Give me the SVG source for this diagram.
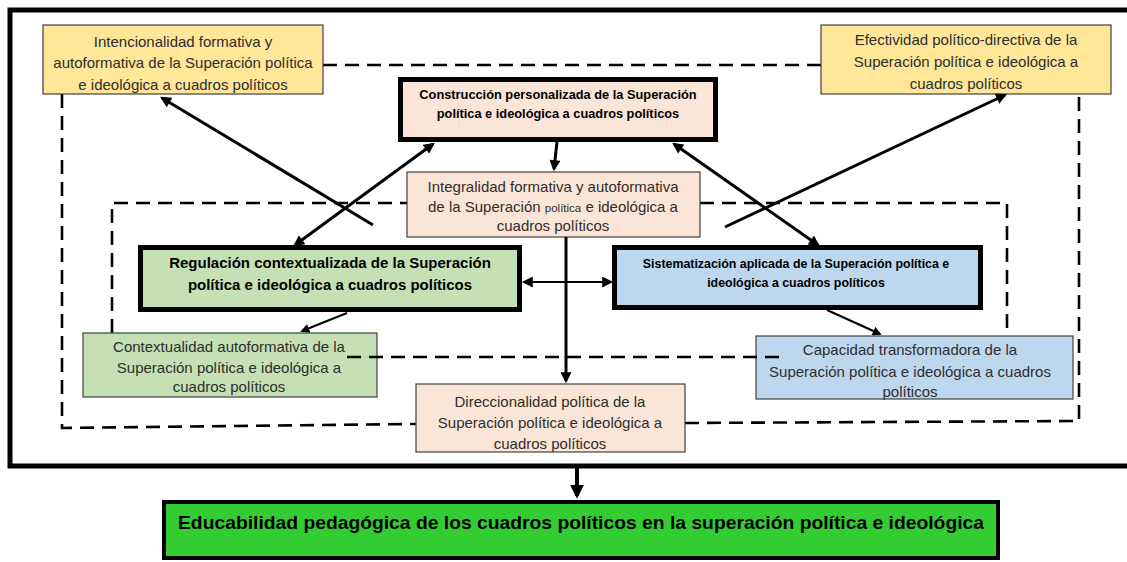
<svg xmlns="http://www.w3.org/2000/svg" width="1127" height="562" viewBox="0 0 1127 562">
<defs>
<style>
.t{font-family:"Liberation Sans",Arial,sans-serif;font-size:15px;fill:#2e2e2e;text-anchor:middle}
.b{font-family:"Liberation Sans",Arial,sans-serif;font-weight:bold;fill:#000;text-anchor:middle}
.thin{stroke:#404040;stroke-width:1.2}
.thick{stroke:#000;stroke-width:5}
.dash{fill:none;stroke:#000;stroke-width:2.6;stroke-dasharray:14 8}
.ar{fill:none;stroke:#000;stroke-width:3}
.ar2{fill:none;stroke:#000;stroke-width:2}
</style>
<marker id="ah" viewBox="0 0 10 10" refX="8" refY="5" markerWidth="12" markerHeight="11" markerUnits="userSpaceOnUse" orient="auto-start-reverse">
<path d="M0,0 L10,5 L0,10 Z" fill="#000"/>
</marker>
<marker id="ahs" viewBox="0 0 10 10" refX="8" refY="5" markerWidth="10" markerHeight="9" markerUnits="userSpaceOnUse" orient="auto-start-reverse">
<path d="M0,0 L10,5 L0,10 Z" fill="#000"/>
</marker>
<marker id="ahb" viewBox="0 0 10 10" refX="8" refY="5" markerWidth="14" markerHeight="15" markerUnits="userSpaceOnUse" orient="auto">
<path d="M0,0 L10,5 L0,10 Z" fill="#000"/>
</marker>
</defs>
<rect width="1127" height="562" fill="#fff"/>

<g id="frame">
<rect x="10" y="10" width="1130" height="456" fill="none" stroke="#000" stroke-width="5"/>
</g>

<g id="dashed-frames">
<path class="dash" d="M323,65 H821"/>
<path class="dash" d="M62,94 V428 L416,424"/>
<path class="dash" d="M685,423 L1079,421 V93"/>
<path class="dash" d="M112,333 V203 H407"/>
<path class="dash" d="M700,203 H1007 V336"/>
</g>

<g id="n-intencionalidad">
<rect x="43" y="25" width="280" height="69" fill="#FFE699" class="thin"/>
<text class="t" x="183" y="47">Intencionalidad formativa y</text>
<text class="t" x="183" y="68">autoformativa de la Superación política</text>
<text class="t" x="183" y="90">e ideológica a cuadros políticos</text>
</g>

<g id="n-efectividad">
<rect x="821" y="25" width="290" height="69" fill="#FFE699" class="thin"/>
<text class="t" x="966" y="45">Efectividad político-directiva de la</text>
<text class="t" x="966" y="67">Superación política e ideológica a</text>
<text class="t" x="966" y="89">cuadros políticos</text>
</g>

<g id="n-construccion">
<rect x="400.5" y="79.5" width="315" height="60" fill="#FBE5D6" class="thick"/>
<text class="b" x="558" y="98.5" font-size="12.8">Construcción personalizada de la Superación</text>
<text class="b" x="558" y="117.5" font-size="12.8">política e ideológica a cuadros políticos</text>
</g>

<g id="n-integralidad">
<rect x="407" y="172" width="293" height="65" fill="#FBE5D6" class="thin"/>
<text class="t" x="553" y="192">Integralidad formativa y autoformativa</text>
<text class="t" x="553" y="212">de la Superación <tspan font-size="11.5">política</tspan> e ideológica a</text>
<text class="t" x="553" y="231">cuadros políticos</text>
</g>

<g id="n-regulacion">
<rect x="140.5" y="247.5" width="379" height="62" fill="#C5E0B4" class="thick"/>
<text class="b" x="330" y="268" font-size="15">Regulación contextualizada de la Superación</text>
<text class="b" x="330" y="290" font-size="15">política e ideológica a cuadros políticos</text>
</g>

<g id="n-sistematizacion">
<rect x="614.5" y="247.5" width="366" height="60" fill="#BDD7EE" class="thick"/>
<text class="b" x="796" y="267.5" font-size="12.4">Sistematización aplicada de la Superación política e</text>
<text class="b" x="796" y="286.5" font-size="12.4">ideológica a cuadros políticos</text>
</g>

<g id="n-contextualidad">
<rect x="83" y="333" width="294" height="64" fill="#C5E0B4" class="thin"/>
<text class="t" x="229" y="352">Contextualidad autoformativa de la</text>
<text class="t" x="229" y="373">Superación política e ideológica a</text>
<text class="t" x="229" y="392">cuadros políticos</text>
</g>

<g id="n-capacidad">
<rect x="756" y="336" width="317" height="63" fill="#BDD7EE" class="thin"/>
<text class="t" x="910" y="355">Capacidad transformadora de la</text>
<text class="t" x="910" y="377">Superación política e ideológica a cuadros</text>
<text class="t" x="910" y="397">políticos</text>
</g>

<g id="n-direccionalidad">
<rect x="416" y="384" width="269" height="68" fill="#FBE5D6" class="thin"/>
<text class="t" x="550" y="407">Direccionalidad política de la</text>
<text class="t" x="550" y="428">Superación política e ideológica a</text>
<text class="t" x="550" y="449">cuadros políticos</text>
</g>

<g id="n-educabilidad">
<rect x="164" y="502" width="834" height="56" fill="#33CC33" stroke="#000" stroke-width="4"/>
<text class="b" x="581" y="529" font-size="19" textLength="806" lengthAdjust="spacingAndGlyphs">Educabilidad pedagógica de los cuadros políticos en la superación política e ideológica</text>
</g>

<g id="connectors">
<path class="dash" d="M347,357 H785"/>
<path class="ar" d="M373,225 L162,98" marker-end="url(#ah)"/>
<path class="ar" d="M295,245 L433,144" marker-start="url(#ah)" marker-end="url(#ah)"/>
<path class="ar" d="M725,227 L1005,95" marker-end="url(#ah)"/>
<path class="ar" d="M674,144 L818,245" marker-start="url(#ah)" marker-end="url(#ah)"/>
<path class="ar" d="M557,142 L554,169" marker-end="url(#ah)"/>
<path class="ar" d="M566,237 V381" marker-end="url(#ah)"/>
<path class="ar2" d="M524,282 H611" marker-start="url(#ah)" marker-end="url(#ah)"/>
<path class="ar2" d="M347,313 L302,331" marker-end="url(#ahs)"/>
<path class="ar2" d="M827,310 L880,334" marker-end="url(#ahs)"/>
<path fill="none" stroke="#000" stroke-width="4" d="M577,468 V496" marker-end="url(#ahb)"/>
</g>
</svg>
